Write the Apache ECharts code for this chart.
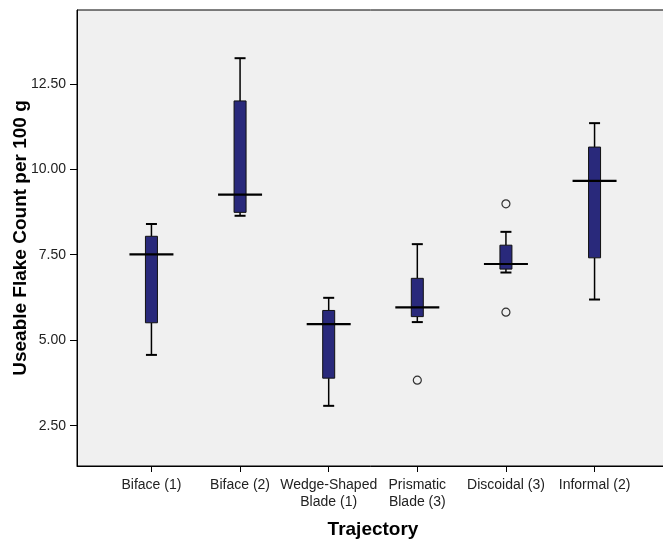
<!DOCTYPE html>
<html>
<head>
<meta charset="utf-8">
<script src="https://cdn.jsdelivr.net/npm/echarts@6/dist/echarts.min.js"></script>
<style>
  html, body { margin: 0; padding: 0; background: #fff; }
  #chart { width: 663px; height: 540px; }
</style>
</head>
<body>
<div id="chart"></div>
<script>
// categories on the x axis (position 1..6)
var categories = ['Biface (1)', 'Biface (2)', 'Wedge-Shaped\nBlade (1)', 'Prismatic\nBlade (3)', 'Discoidal (3)', 'Informal (2)'];
var positions = [1, 2, 3, 4, 5, 6];

// box plot values
var lowWhisker = [4.57, 8.64, 3.08, 5.53, 6.98, 6.19];
var q1 = [5.51, 8.74, 3.89, 5.69, 7.08, 7.41];
var median = [7.51, 9.26, 5.47, 5.96, 7.23, 9.66];
var q3 = [8.04, 12.00, 5.87, 6.81, 7.78, 10.65];
var highWhisker = [8.40, 13.25, 6.24, 7.81, 8.17, 11.35];

// outliers [position, value]
var outliers = [[4, 3.83], [5, 8.99], [5, 5.82]];

var yTicks = [2.5, 5, 7.5, 10, 12.5];

var boxRows = [];
for (var i = 0; i < positions.length; i++) {
  boxRows.push([positions[i], lowWhisker[i], q1[i], median[i], q3[i], highWhisker[i]]);
}

var BOX_W = 12;
var CAP_W = 11;
var MED_W = 44;

function renderBox(params, api) {
  var x = api.value(0);
  var pLow = api.coord([x, api.value(1)]);
  var pQ1 = api.coord([x, api.value(2)]);
  var pMed = api.coord([x, api.value(3)]);
  var pQ3 = api.coord([x, api.value(4)]);
  var pHigh = api.coord([x, api.value(5)]);
  var cx = pMed[0];
  var lineStyle = { stroke: '#000', lineWidth: 1.5 };
  var capStyle = { stroke: '#000', lineWidth: 2 };
  return {
    type: 'group',
    children: [
      { type: 'line', shape: { x1: cx, y1: pHigh[1], x2: cx, y2: pQ3[1] }, style: lineStyle },
      { type: 'line', shape: { x1: cx, y1: pQ1[1], x2: cx, y2: pLow[1] }, style: lineStyle },
      { type: 'line', shape: { x1: cx - CAP_W / 2, y1: pHigh[1], x2: cx + CAP_W / 2, y2: pHigh[1] }, style: capStyle },
      { type: 'line', shape: { x1: cx - CAP_W / 2, y1: pLow[1], x2: cx + CAP_W / 2, y2: pLow[1] }, style: capStyle },
      {
        type: 'rect',
        shape: { x: cx - BOX_W / 2, y: pQ3[1], width: BOX_W, height: pQ1[1] - pQ3[1] },
        style: { fill: '#29297b', stroke: '#111', lineWidth: 1 }
      },
      { type: 'line', shape: { x1: cx - MED_W / 2, y1: pMed[1], x2: cx + MED_W / 2, y2: pMed[1] }, style: { stroke: '#000', lineWidth: 2.2 } }
    ]
  };
}

var chart = echarts.init(document.getElementById('chart'), null, { renderer: 'canvas' });

var option = {
  animation: false,
  backgroundColor: '#fff',
  textStyle: { fontFamily: 'Liberation Sans, Arial, sans-serif' },
  grid: {
    left: 77,
    top: 10,
    width: 592,
    height: 456,
    outerBoundsMode: 'none',
    containLabel: false,
    show: true,
    backgroundColor: '#f0f0f0',
    borderColor: '#000',
    borderWidth: 1
  },
  xAxis: {
    type: 'value',
    min: 0.16,
    max: 6.84,
    name: 'Trajectory',
    nameLocation: 'middle',
    nameGap: 54,
    nameTextStyle: { fontSize: 19, fontWeight: 'bold', color: '#000' },
    splitLine: { show: false },
    axisLine: { show: true, lineStyle: { color: '#000', width: 1 } },
    axisTick: { show: true, length: 6, customValues: positions, lineStyle: { color: '#000' } },
    axisLabel: {
      customValues: positions,
      margin: 11,
      fontSize: 14,
      lineHeight: 17,
      color: '#222',
      formatter: function (v) {
        return categories[Math.round(v) - 1] || '';
      }
    }
  },
  yAxis: {
    type: 'value',
    min: 1.32,
    max: 14.66,
    name: 'Useable Flake Count per 100 g',
    nameLocation: 'middle',
    nameGap: 47,
    nameMoveOverlap: false,
    nameTextStyle: { fontSize: 19, fontWeight: 'bold', color: '#000' },
    splitLine: { show: false },
    axisLine: { show: true, lineStyle: { color: '#000', width: 1 } },
    axisTick: { show: true, length: 7, customValues: yTicks, lineStyle: { color: '#000' } },
    axisLabel: {
      customValues: yTicks,
      margin: 11,
      fontSize: 14,
      color: '#222',
      formatter: function (v) {
        return v.toFixed(2);
      }
    }
  },
  series: [
    {
      type: 'custom',
      renderItem: renderBox,
      data: boxRows,
      encode: { x: 0, y: [1, 2, 3, 4, 5] },
      z: 3
    },
    {
      type: 'scatter',
      data: outliers,
      symbol: 'circle',
      symbolSize: 8,
      itemStyle: { color: '#f0f0f0', borderColor: '#000', borderWidth: 1.2 },
      z: 4
    }
  ]
};

chart.setOption(option);
</script>
</body>
</html>
